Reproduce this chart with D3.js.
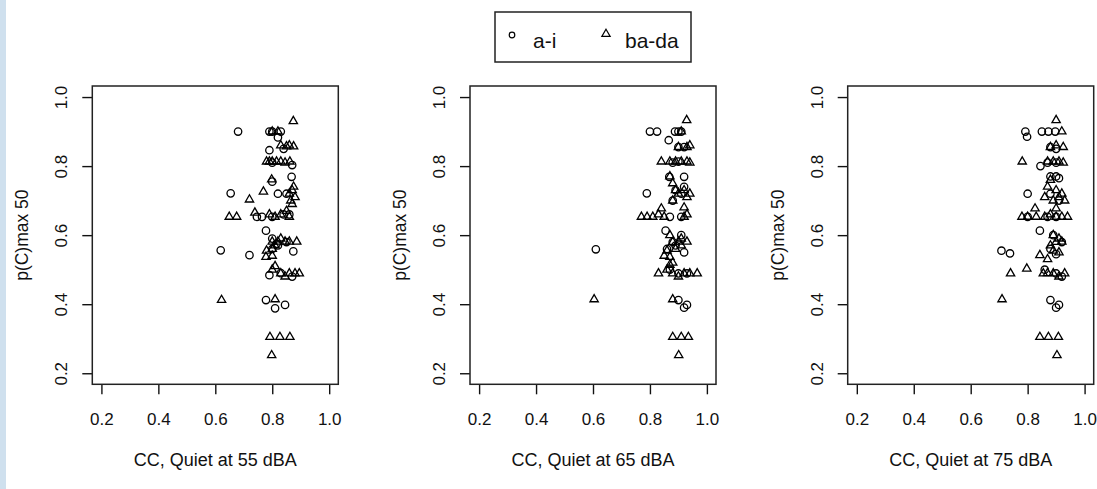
<!DOCTYPE html>
<html>
<head>
<meta charset="utf-8">
<script src="https://cdn.jsdelivr.net/npm/d3@7"></script>
<style>
  html, body { margin: 0; padding: 0; background: #fff; }
  #chart-container { width: 1097px; height: 489px; }
  text { font-family: "Liberation Sans", Arial, sans-serif; fill: #111; }
</style>
</head>
<body>
<div id="chart-container"></div>
<script>
// tick labels + titles
const tickValues = [0.2, 0.4, 0.6, 0.8, 1.0];
const panelTitles = ["CC, Quiet at 55 dBA", "CC, Quiet at 65 dBA", "CC, Quiet at 75 dBA"];
const yTitle = "p(C)max 50";
const legendLabels = ["a-i", "ba-da"];

// [CC, p(C)max 50]
const ai55 = [[0.68,0.90],[0.79,0.90],[0.80,0.90],[0.83,0.90],[0.82,0.883],[0.79,0.846],[0.84,0.85],[0.87,0.803],[0.80,0.81],[0.868,0.769],[0.80,0.755],[0.654,0.721],[0.82,0.72],[0.85,0.72],[0.746,0.653],[0.764,0.653],[0.80,0.653],[0.84,0.66],[0.778,0.613],[0.619,0.556],[0.72,0.542],[0.80,0.56],[0.874,0.553],[0.82,0.57],[0.79,0.484],[0.83,0.49],[0.87,0.48],[0.778,0.412],[0.81,0.388],[0.845,0.398],[0.86,0.66],[0.815,0.575],[0.85,0.58],[0.80,0.59]];
const bada55 = [[0.874,0.93],[0.80,0.90],[0.82,0.90],[0.83,0.86],[0.85,0.857],[0.86,0.86],[0.875,0.857],[0.78,0.813],[0.79,0.813],[0.80,0.813],[0.815,0.813],[0.83,0.813],[0.845,0.81],[0.862,0.813],[0.798,0.761],[0.769,0.726],[0.72,0.703],[0.86,0.72],[0.87,0.73],[0.88,0.71],[0.865,0.70],[0.875,0.74],[0.649,0.653],[0.675,0.653],[0.739,0.665],[0.79,0.66],[0.81,0.653],[0.83,0.66],[0.85,0.67],[0.86,0.653],[0.87,0.69],[0.778,0.537],[0.78,0.555],[0.80,0.56],[0.80,0.581],[0.82,0.581],[0.83,0.59],[0.845,0.581],[0.86,0.581],[0.886,0.581],[0.80,0.54],[0.81,0.57],[0.80,0.50],[0.83,0.489],[0.845,0.48],[0.86,0.489],[0.88,0.489],[0.895,0.489],[0.81,0.51],[0.622,0.412],[0.81,0.414],[0.792,0.305],[0.827,0.305],[0.862,0.305],[0.798,0.252]];

const ai65 = [[0.80,0.90],[0.825,0.90],[0.866,0.875],[0.888,0.90],[0.90,0.90],[0.91,0.90],[0.90,0.855],[0.92,0.855],[0.88,0.81],[0.90,0.813],[0.868,0.769],[0.92,0.769],[0.789,0.721],[0.89,0.73],[0.91,0.72],[0.87,0.653],[0.91,0.653],[0.855,0.613],[0.61,0.559],[0.86,0.56],[0.89,0.57],[0.92,0.55],[0.87,0.50],[0.90,0.489],[0.93,0.489],[0.90,0.412],[0.92,0.39],[0.93,0.398],[0.88,0.58],[0.91,0.60],[0.88,0.70],[0.92,0.74]];
const bada65 = [[0.929,0.933],[0.91,0.90],[0.90,0.855],[0.93,0.855],[0.94,0.86],[0.84,0.813],[0.87,0.813],[0.89,0.813],[0.91,0.813],[0.93,0.813],[0.94,0.81],[0.87,0.77],[0.88,0.75],[0.89,0.73],[0.90,0.72],[0.92,0.73],[0.93,0.71],[0.88,0.70],[0.94,0.72],[0.84,0.677],[0.77,0.653],[0.79,0.653],[0.81,0.653],[0.83,0.66],[0.85,0.653],[0.92,0.653],[0.93,0.66],[0.92,0.68],[0.87,0.60],[0.88,0.58],[0.90,0.581],[0.91,0.59],[0.93,0.581],[0.86,0.555],[0.87,0.537],[0.89,0.56],[0.91,0.57],[0.88,0.52],[0.83,0.489],[0.86,0.50],[0.88,0.489],[0.90,0.48],[0.92,0.489],[0.94,0.489],[0.966,0.489],[0.87,0.514],[0.604,0.414],[0.88,0.414],[0.88,0.305],[0.91,0.305],[0.935,0.305],[0.901,0.252],[0.85,0.54]];

const ai75 = [[0.792,0.90],[0.798,0.885],[0.85,0.90],[0.873,0.90],[0.897,0.90],[0.88,0.855],[0.90,0.85],[0.845,0.80],[0.87,0.81],[0.90,0.81],[0.88,0.77],[0.90,0.77],[0.91,0.765],[0.80,0.72],[0.88,0.72],[0.91,0.70],[0.80,0.653],[0.87,0.653],[0.90,0.653],[0.843,0.613],[0.708,0.555],[0.738,0.547],[0.88,0.56],[0.90,0.545],[0.92,0.58],[0.86,0.50],[0.90,0.489],[0.92,0.48],[0.88,0.412],[0.90,0.39],[0.91,0.398],[0.89,0.60]];
const bada75 = [[0.90,0.933],[0.92,0.90],[0.88,0.855],[0.90,0.86],[0.925,0.855],[0.781,0.813],[0.87,0.813],[0.89,0.813],[0.91,0.813],[0.925,0.81],[0.88,0.76],[0.87,0.74],[0.90,0.73],[0.92,0.72],[0.86,0.71],[0.89,0.70],[0.91,0.71],[0.93,0.70],[0.826,0.677],[0.90,0.677],[0.78,0.653],[0.80,0.653],[0.83,0.653],[0.86,0.653],[0.88,0.66],[0.90,0.653],[0.92,0.653],[0.94,0.653],[0.89,0.60],[0.90,0.58],[0.92,0.581],[0.91,0.59],[0.88,0.57],[0.843,0.542],[0.87,0.53],[0.89,0.555],[0.91,0.55],[0.74,0.489],[0.797,0.503],[0.855,0.489],[0.87,0.49],[0.89,0.489],[0.91,0.48],[0.93,0.489],[0.71,0.414],[0.843,0.305],[0.873,0.305],[0.908,0.305],[0.903,0.252]];

const panels = [
  { title: panelTitles[0], ai: ai55, bada: bada55 },
  { title: panelTitles[1], ai: ai65, bada: bada65 },
  { title: panelTitles[2], ai: ai75, bada: bada75 }
];

const W = 1097, H = 489;
// R style 4% padding around 0.2..1.0
const dom = [0.2 - 0.032, 1.0 + 0.032];
const box = { left: 92.3, step: 377.7, w: 246, top: 86, bottom: 384.3 };
const font = "'Liberation Sans', Arial, sans-serif";

const svg = d3.select("#chart-container").append("svg")
  .attr("width", W).attr("height", H);

// light blue strip on the left edge
svg.append("rect").attr("x", 0).attr("y", 0).attr("width", 6).attr("height", H)
  .attr("fill", "#cfe0ee");

let triPath = (r) => {
  let h = r * Math.sqrt(3) / 2;
  return `M0,${-r}L${h},${r / 2}L${-h},${r / 2}Z`;
};

let drawPanel = (p, i) => {
  let x0 = box.left + i * box.step;
  let x = d3.scaleLinear().domain(dom).range([x0, x0 + box.w]);
  let y = d3.scaleLinear().domain(dom).range([box.bottom, box.top]);
  let g = svg.append("g").attr("class", "panel");

  // x axis
  let gx = g.append("g").attr("transform", `translate(0,${box.bottom})`)
    .call(d3.axisBottom(x).tickValues(tickValues).tickSize(10).tickFormat(d3.format(".1f")));
  gx.select(".domain").remove();
  gx.selectAll("line").attr("stroke", "#111").attr("stroke-width", 1.4);
  gx.selectAll("text").attr("y", 41).attr("dy", 0)
    .style("font-size", "17px").style("font-family", font).attr("fill", "#111");

  // y axis, labels turned like R's las=0
  let gy = g.append("g").attr("transform", `translate(${x0},0)`)
    .call(d3.axisLeft(y).tickValues(tickValues).tickSize(10).tickFormat(d3.format(".1f")));
  gy.select(".domain").remove();
  gy.selectAll("line").attr("stroke", "#111").attr("stroke-width", 1.4);
  gy.selectAll("text")
    .attr("transform", "rotate(-90)")
    .attr("x", 0).attr("y", -25).attr("dy", 0)
    .attr("text-anchor", "middle")
    .style("font-size", "17px").style("font-family", font).attr("fill", "#111");

  // box
  g.append("rect").attr("x", x0).attr("y", box.top)
    .attr("width", box.w).attr("height", box.bottom - box.top)
    .attr("fill", "none").attr("stroke", "#222").attr("stroke-width", 1.5);

  // titles
  g.append("text").attr("x", x0 + box.w / 2).attr("y", 466)
    .attr("text-anchor", "middle").style("font-size", "18px").text(p.title);
  g.append("text")
    .attr("transform", `translate(${x0 - 64},${(box.top + box.bottom) / 2}) rotate(-90)`)
    .attr("text-anchor", "middle").style("font-size", "17.5px").text(yTitle);

  // points
  g.append("g").selectAll("circle").data(p.ai).enter().append("circle")
    .attr("cx", (d) => x(d[0])).attr("cy", (d) => y(d[1])).attr("r", 3.7)
    .attr("fill", "none").attr("stroke", "#000").attr("stroke-width", 1.3);
  g.append("g").selectAll("path").data(p.bada).enter().append("path")
    .attr("d", triPath(4.8))
    .attr("transform", (d) => `translate(${x(d[0])},${y(d[1])})`)
    .attr("fill", "none").attr("stroke", "#000").attr("stroke-width", 1.3);
};

panels.forEach(drawPanel);

// legend
let lg = svg.append("g").attr("class", "legend");
lg.append("rect").attr("x", 495).attr("y", 12).attr("width", 196).attr("height", 50)
  .attr("fill", "#fff").attr("stroke", "#222").attr("stroke-width", 1.5);
lg.append("circle").attr("cx", 512).attr("cy", 35).attr("r", 2.8)
  .attr("fill", "none").attr("stroke", "#000").attr("stroke-width", 1.2);
lg.append("text").attr("x", 533).attr("y", 48).style("font-size", "21px").text(legendLabels[0]);
lg.append("path").attr("d", triPath(4.8)).attr("transform", "translate(606,34)")
  .attr("fill", "none").attr("stroke", "#000").attr("stroke-width", 1.2);
lg.append("text").attr("x", 625).attr("y", 48).style("font-size", "21px").text(legendLabels[1]);
</script>
</body>
</html>
